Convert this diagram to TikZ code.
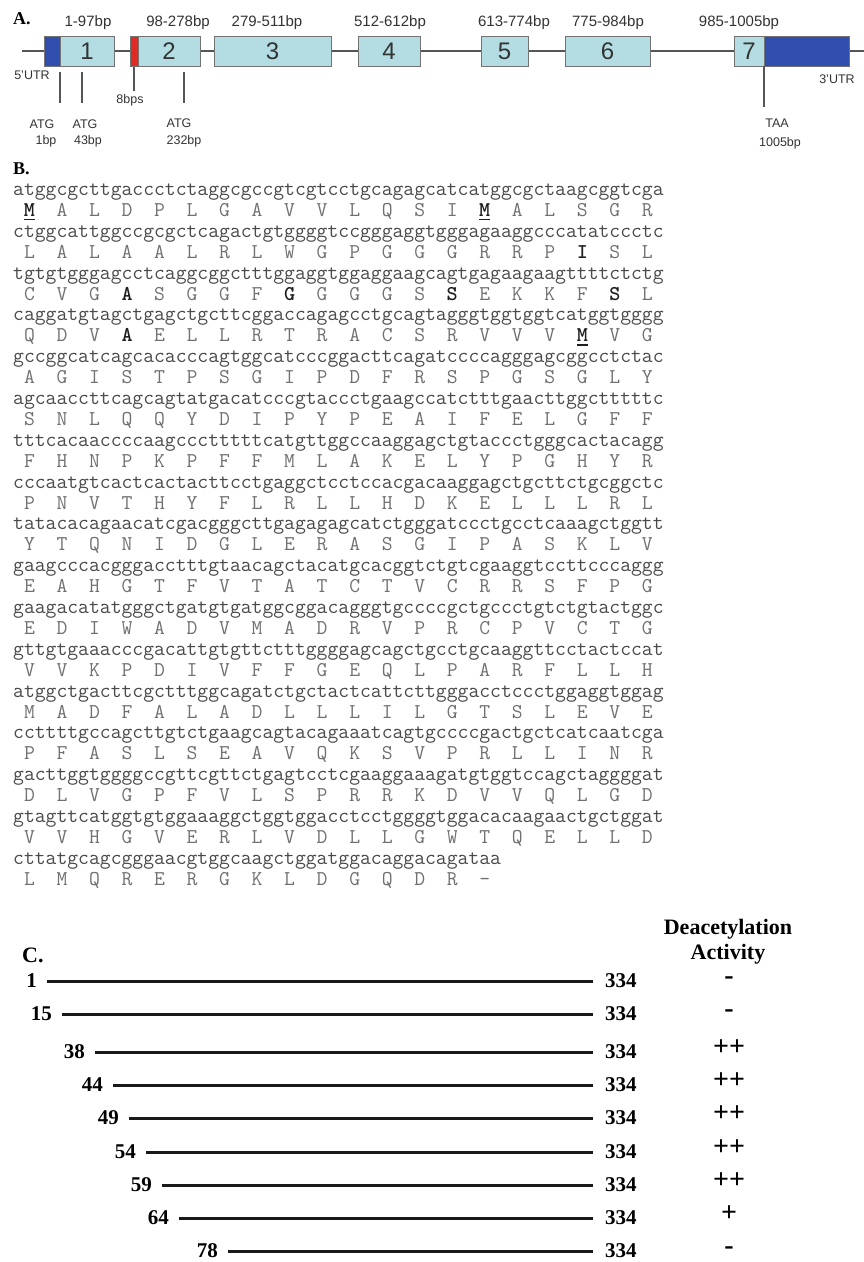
\documentclass[tikz,border=0pt]{standalone}
\usepackage{fontspec}
\setmainfont{Liberation Serif}
\setsansfont{Liberation Sans}
\usepackage{xcolor}
\definecolor{exon}{HTML}{B3DDE3}
\definecolor{utr}{HTML}{2F4EAE}
\definecolor{redx}{HTML}{E02A24}
\definecolor{ntc}{HTML}{4A4A4A}
\definecolor{aac}{HTML}{707070}
\definecolor{aab}{HTML}{1E1E1E}
\definecolor{txtA}{HTML}{333333}
\definecolor{genel}{HTML}{555555}
\newsavebox\codonbox
\newcommand\bfaa[1]{{\bfseries\color{aab}#1}}
\newcommand\ulaa[1]{{\bfseries\color{aab}\sbox0{#1}\rlap{\rule[-4pt]{\wd0}{1.6pt}}\usebox0}}
\newcommand\aarow[1]{\sbox\codonbox{aaa}\foreach \aaL in {#1}{\makebox[\wd\codonbox][c]{\aaL}}}
\tikzset{
  exonbox/.style={draw=black!55, line width=0.9pt, fill=exon, inner sep=0pt, outer sep=0pt,
    minimum height=30pt, text=txtA, font=\sffamily\fontsize{24}{24}\selectfont},
  utrbox/.style={exonbox, fill=utr},
  redbox/.style={exonbox, fill=redx},
  toplab/.style={anchor=base, inner sep=0pt, text=txtA, font=\sffamily\fontsize{15}{15}\selectfont},
  smalllab/.style={anchor=base, inner sep=0pt, text=txtA, font=\sffamily\fontsize{12.5}{12.5}\selectfont},
  tick/.style={draw=genel, line width=1.1pt},
  panel/.style={anchor=base west, inner sep=0pt, font=\bfseries\fontsize{18}{18}\selectfont},
  ntrow/.style={anchor=base west, inner sep=0pt, text=ntc, font=\ttfamily\fontsize{21.05}{24}\selectfont},
  aarowst/.style={anchor=base west, inner sep=0pt, text=aac, font=\ttfamily\fontsize{21.05}{24}\selectfont},
  cnum/.style={inner sep=0pt, font=\bfseries\fontsize{21}{21}\selectfont},
  csign/.style={anchor=base, inner sep=0pt, font=\bfseries\fontsize{28}{28}\selectfont},
  cline/.style={draw=black!90, line width=3pt},
  chead/.style={anchor=base, inner sep=0pt, font=\bfseries\fontsize{22}{22}\selectfont}
}
\begin{document}
\begin{tikzpicture}[x=1pt,y=-1pt]
\useasboundingbox[fill=white] (0,0) rectangle (864,1262);
% ---------- A ----------
\node[panel] (pA) at (13,24) {A.};
\coordinate (gl) at (22,51);
\coordinate (gr) at (864,51);
\draw[draw=genel, line width=1.4pt] (gl) -- (gr);
\node[utrbox, minimum width=16pt] (u5) at (52,51) {};
\node[exonbox, minimum width=54pt] (ex1) at (87,51) {1};
\node[redbox, minimum width=8pt] (rd) at (134,51) {};
\node[exonbox, minimum width=62pt] (ex2) at (169,51) {2};
\node[exonbox, minimum width=117pt] (ex3) at (272.5,51) {3};
\node[exonbox, minimum width=62pt] (ex4) at (389,51) {4};
\node[exonbox, minimum width=47pt] (ex5) at (504.5,51) {5};
\node[exonbox, minimum width=85pt] (ex6) at (607.5,51) {6};
\node[exonbox, minimum width=30pt] (ex7) at (749,51) {7};
\node[utrbox, minimum width=85pt] (u3) at (806.5,51) {};
\node[toplab] (l1) at (88,26) {1-97bp};
\node[toplab] (l2) at (178,26) {98-278bp};
\node[toplab] (l3) at (267,26) {279-511bp};
\node[toplab] (l4) at (390,26) {512-612bp};
\node[toplab] (l5) at (514,26) {613-774bp};
\node[toplab] (l6) at (608,26) {775-984bp};
\node[toplab] (l7) at (739,26) {985-1005bp};
\node[smalllab] (t5) at (32,79.5) {5'UTR};
\node[smalllab] (t3) at (837,83.5) {3'UTR};
% ticks
\coordinate (k1a) at (60,72); \coordinate (k1b) at (60,103);
\coordinate (k2a) at (82,72); \coordinate (k2b) at (82,103);
\coordinate (k3a) at (134,67); \coordinate (k3b) at (134,91);
\coordinate (k4a) at (184,72); \coordinate (k4b) at (184,103);
\coordinate (k5a) at (764,66); \coordinate (k5b) at (764,107);
\draw[tick] (k1a) -- (k1b);
\draw[tick] (k2a) -- (k2b);
\draw[tick] (k3a) -- (k3b);
\draw[tick] (k4a) -- (k4b);
\draw[tick] (k5a) -- (k5b);
\node[smalllab] (m1a) at (42,128.5) {ATG};
\node[smalllab] (m1b) at (46,144.5) {1bp};
\node[smalllab] (m2a) at (85,128.5) {ATG};
\node[smalllab] (m2b) at (88,144.5) {43bp};
\node[smalllab] (m3) at (130,103.5) {8bps};
\node[smalllab] (m4a) at (179,127) {ATG};
\node[smalllab] (m4b) at (184,144.5) {232bp};
\node[smalllab] (m5a) at (777,127.5) {TAA};
\node[smalllab] (m5b) at (780,146.5) {1005bp};
% ---------- B ----------
\node[panel] (pB) at (13,174) {B.};
\node[ntrow] (n1) at (13,195.5) {atggcgcttgaccctctaggcgccgtcgtcctgcagagcatcatggcgctaagcggtcga};
\node[aarowst] (a1) at (13,216.4) {\aarow{\ulaa{M},A,L,D,P,L,G,A,V,V,L,Q,S,I,\ulaa{M},A,L,S,G,R}};
\node[ntrow] (n2) at (13,237.3) {ctggcattggccgcgctcagactgtggggtccgggaggtgggagaaggcccatatccctc};
\node[aarowst] (a2) at (13,258.2) {\aarow{L,A,L,A,A,L,R,L,W,G,P,G,G,G,R,R,P,\bfaa{I},S,L}};
\node[ntrow] (n3) at (13,279.1) {tgtgtgggagcctcaggcggctttggaggtggaggaagcagtgagaagaagttttctctg};
\node[aarowst] (a3) at (13,300.0) {\aarow{C,V,G,\bfaa{A},S,G,G,F,\bfaa{G},G,G,G,S,\bfaa{S},E,K,K,F,\bfaa{S},L}};
\node[ntrow] (n4) at (13,320.9) {caggatgtagctgagctgcttcggaccagagcctgcagtagggtggtggtcatggtgggg};
\node[aarowst] (a4) at (13,341.8) {\aarow{Q,D,V,\bfaa{A},E,L,L,R,T,R,A,C,S,R,V,V,V,\ulaa{M},V,G}};
\node[ntrow] (n5) at (13,362.7) {gccggcatcagcacacccagtggcatcccggacttcagatccccagggagcggcctctac};
\node[aarowst] (a5) at (13,383.6) {\aarow{A,G,I,S,T,P,S,G,I,P,D,F,R,S,P,G,S,G,L,Y}};
\node[ntrow] (n6) at (13,404.5) {agcaaccttcagcagtatgacatcccgtaccctgaagccatctttgaacttggctttttc};
\node[aarowst] (a6) at (13,425.4) {\aarow{S,N,L,Q,Q,Y,D,I,P,Y,P,E,A,I,F,E,L,G,F,F}};
\node[ntrow] (n7) at (13,446.3) {tttcacaaccccaagccctttttcatgttggccaaggagctgtaccctgggcactacagg};
\node[aarowst] (a7) at (13,467.2) {\aarow{F,H,N,P,K,P,F,F,M,L,A,K,E,L,Y,P,G,H,Y,R}};
\node[ntrow] (n8) at (13,488.1) {cccaatgtcactcactacttcctgaggctcctccacgacaaggagctgcttctgcggctc};
\node[aarowst] (a8) at (13,509.0) {\aarow{P,N,V,T,H,Y,F,L,R,L,L,H,D,K,E,L,L,L,R,L}};
\node[ntrow] (n9) at (13,529.9) {tatacacagaacatcgacgggcttgagagagcatctgggatccctgcctcaaagctggtt};
\node[aarowst] (a9) at (13,550.8) {\aarow{Y,T,Q,N,I,D,G,L,E,R,A,S,G,I,P,A,S,K,L,V}};
\node[ntrow] (n10) at (13,571.7) {gaagcccacgggacctttgtaacagctacatgcacggtctgtcgaaggtccttcccaggg};
\node[aarowst] (a10) at (13,592.6) {\aarow{E,A,H,G,T,F,V,T,A,T,C,T,V,C,R,R,S,F,P,G}};
\node[ntrow] (n11) at (13,613.5) {gaagacatatgggctgatgtgatggcggacagggtgccccgctgccctgtctgtactggc};
\node[aarowst] (a11) at (13,634.4) {\aarow{E,D,I,W,A,D,V,M,A,D,R,V,P,R,C,P,V,C,T,G}};
\node[ntrow] (n12) at (13,655.3) {gttgtgaaacccgacattgtgttctttggggagcagctgcctgcaaggttcctactccat};
\node[aarowst] (a12) at (13,676.2) {\aarow{V,V,K,P,D,I,V,F,F,G,E,Q,L,P,A,R,F,L,L,H}};
\node[ntrow] (n13) at (13,697.1) {atggctgacttcgctttggcagatctgctactcattcttgggacctccctggaggtggag};
\node[aarowst] (a13) at (13,718.0) {\aarow{M,A,D,F,A,L,A,D,L,L,L,I,L,G,T,S,L,E,V,E}};
\node[ntrow] (n14) at (13,738.9) {ccttttgccagcttgtctgaagcagtacagaaatcagtgccccgactgctcatcaatcga};
\node[aarowst] (a14) at (13,759.8) {\aarow{P,F,A,S,L,S,E,A,V,Q,K,S,V,P,R,L,L,I,N,R}};
\node[ntrow] (n15) at (13,780.7) {gacttggtggggccgttcgttctgagtcctcgaaggaaagatgtggtccagctaggggat};
\node[aarowst] (a15) at (13,801.6) {\aarow{D,L,V,G,P,F,V,L,S,P,R,R,K,D,V,V,Q,L,G,D}};
\node[ntrow] (n16) at (13,822.5) {gtagttcatggtgtggaaaggctggtggacctcctggggtggacacaagaactgctggat};
\node[aarowst] (a16) at (13,843.4) {\aarow{V,V,H,G,V,E,R,L,V,D,L,L,G,W,T,Q,E,L,L,D}};
\node[ntrow] (n17) at (13,864.3) {cttatgcagcgggaacgtggcaagctggatggacaggacagataa};
\node[aarowst] (a17) at (13,885.2) {\aarow{L,M,Q,R,E,R,G,K,L,D,G,Q,D,R,-}};
% ---------- C ----------
\node[panel, font=\bfseries\fontsize{22}{22}\selectfont] (pC) at (22,962) {C.};
\node[chead] (h1) at (728,934) {Deacetylation};
\node[chead] (h2) at (728,959) {Activity};
\foreach \s/\yy/\lab/\sg [count=\i] in {47/981/1/-, 62/1014/15/-, 95/1052/38/++, 113/1085/44/++, 129/1118/49/++, 146/1152/54/++, 162/1185/59/++, 179/1218/64/+, 228/1251/78/-}{
  \node[cnum, anchor=east] (L\i) at (\s-10,\yy) {\lab};
  \node[cnum, anchor=west] (R\i) at (605,\yy) {334};
  \coordinate (cs\i) at (\s,\yy);
  \coordinate (ce\i) at (593,\yy);
  \draw[cline] (cs\i) -- (ce\i);
  \node[csign] (S\i) at (729,\yy+3) {\sg};
}
\end{tikzpicture}
\end{document}
